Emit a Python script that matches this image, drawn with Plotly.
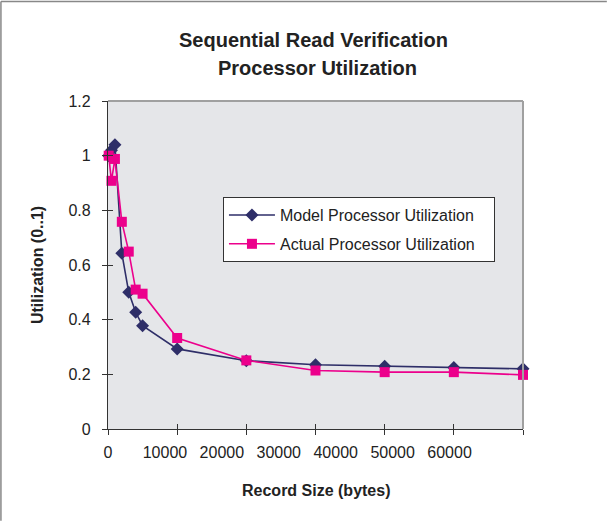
import plotly.graph_objects as go

# Data
record_size_model = [100, 500, 1000, 2000, 3000, 4000, 5000, 10000, 20000, 30000, 40000, 50000, 60000]
model_util = [1.00, 1.02, 1.04, 0.643, 0.50, 0.427, 0.378, 0.293, 0.25, 0.235, 0.23, 0.225, 0.22]
record_size_actual = [100, 500, 1000, 2000, 3000, 4000, 5000, 10000, 20000, 30000, 40000, 50000, 60000]
actual_util = [1.00, 0.908, 0.988, 0.758, 0.649, 0.51, 0.495, 0.333, 0.251, 0.214, 0.208, 0.208, 0.198]
x_tick_vals = [0, 10000, 20000, 30000, 40000, 50000, 60000]
x_tick_text = ["0", "10000", "20000", "30000", "40000", "50000", "60000"]
y_tick_vals = [0, 0.2, 0.4, 0.6, 0.8, 1.0, 1.2]
y_tick_text = ["0", "0.2", "0.4", "0.6", "0.8", "1", "1.2"]

FONT = "Arial, Liberation Sans, sans-serif"
NAVY = "#2E2E68"
PINK = "#EC008C"
PAD = "\u00a0\u00a0\u00a0"

fig = go.Figure()
fig.add_trace(go.Scatter(
    x=record_size_model, y=model_util, mode="lines+markers",
    name="Model Processor Utilization" + PAD, legendgroup="a",
    line=dict(color=NAVY, width=1.6),
    marker=dict(symbol="diamond", size=10, color=NAVY),
    cliponaxis=False))
fig.add_trace(go.Scatter(
    x=record_size_actual, y=actual_util, mode="lines+markers",
    name="Actual Processor Utilization" + PAD, legendgroup="b",
    line=dict(color=PINK, width=1.6),
    marker=dict(symbol="square", size=10, color=PINK),
    cliponaxis=False))
# helper traces for overlay axes (label axis and cross ticks)
fig.add_trace(go.Scatter(x=[], y=[], xaxis="x2", yaxis="y", showlegend=False, hoverinfo="skip"))
fig.add_trace(go.Scatter(x=[], y=[], xaxis="x3", yaxis="y2", showlegend=False, hoverinfo="skip"))

axis_common = dict(showgrid=False, zeroline=False)
fig.update_layout(
    width=609, height=531,
    margin=dict(l=108, r=86, t=101, b=102),
    paper_bgcolor="white", plot_bgcolor="#E5E6E9",
    font=dict(family=FONT, size=16, color="#222"),
    xaxis=dict(range=[0, 60000], tickvals=x_tick_vals, showticklabels=False,
               ticks="outside", ticklen=5, tickcolor="#333", showline=True,
               linecolor="#333", linewidth=1.2, **axis_common),
    xaxis2=dict(overlaying="x", side="bottom", range=[0, 72900], tickvals=x_tick_vals,
                ticktext=x_tick_text, ticks="", showline=False,
                tickfont=dict(family=FONT, size=16, color="#222"),
                ticklabelstandoff=12, **axis_common),
    xaxis3=dict(overlaying="x", side="bottom", range=[0, 60000], tickvals=x_tick_vals,
                showticklabels=False, ticks="inside", ticklen=5, tickcolor="#333",
                showline=False, **axis_common),
    yaxis=dict(range=[0, 1.2], tickvals=y_tick_vals, ticktext=y_tick_text,
               ticks="outside", ticklen=5, tickcolor="#333", showline=True,
               linecolor="#333", linewidth=1.2,
               tickfont=dict(family=FONT, size=16, color="#222"),
               ticklabelstandoff=8, **axis_common),
    yaxis2=dict(overlaying="y", side="left", range=[0, 1.2], tickvals=y_tick_vals,
                showticklabels=False, ticks="inside", ticklen=5, tickcolor="#333",
                showline=False, **axis_common),
    legend=dict(x=0.277, y=0.707, xanchor="left", yanchor="top",
                bgcolor="white", bordercolor="#333", borderwidth=1,
                font=dict(family=FONT, size=16, color="#222"),
                tracegroupgap=5, itemwidth=46),
    shapes=[
        dict(type="line", xref="paper", yref="paper", x0=0, x1=1, y0=1, y1=1,
             line=dict(color="#A0A0A0", width=2)),
        dict(type="line", xref="paper", yref="paper", x0=1, x1=1, y0=0, y1=1,
             line=dict(color="#A0A0A0", width=2)),
        dict(type="line", xref="paper", yref="paper", x0=-0.258, x1=1.202,
             y0=1.303, y1=1.303, line=dict(color="#888", width=1.5)),
        dict(type="line", xref="paper", yref="paper", x0=-0.258, x1=-0.258,
             y0=1.303, y1=-0.28, line=dict(color="#888", width=1.5)),
    ],
    annotations=[
        dict(text="<b>Sequential Read Verification</b>", xref="paper", yref="paper",
             x=0.494, y=1.186, xanchor="center", yanchor="middle", showarrow=False,
             font=dict(family=FONT, size=20, color="#222")),
        dict(text="<b>Processor Utilization</b>", xref="paper", yref="paper",
             x=0.506, y=1.10, xanchor="center", yanchor="middle", showarrow=False,
             font=dict(family=FONT, size=20, color="#222")),
        dict(text="<b>Record Size (bytes)</b>", xref="paper", yref="paper",
             x=0.5, y=-0.186, xanchor="center", yanchor="middle", showarrow=False,
             font=dict(family=FONT, size=16, color="#222")),
        dict(text="<b>Utilization (0..1)</b>", xref="paper", yref="paper",
             x=-0.171, y=0.5, xanchor="center", yanchor="middle", showarrow=False,
             textangle=-90, font=dict(family=FONT, size=16, color="#222")),
    ],
)

fig.write_html("out.html")
